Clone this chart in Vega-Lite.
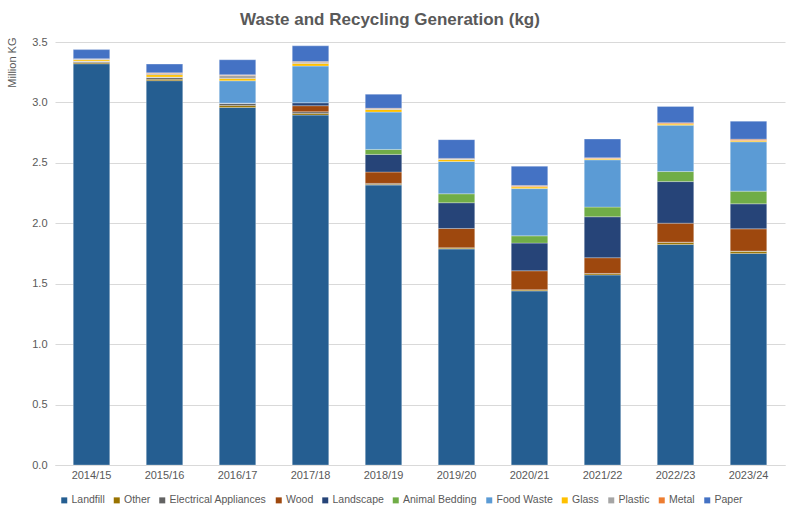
{
  "$schema": "https://vega.github.io/schema/vega-lite/v6.json",
  "autosize": {"type": "none"},
  "width": 730,
  "height": 423,
  "padding": {"left": 55, "top": 42, "right": 15, "bottom": 52},
  "background": "white",
  "title": {
    "text": "Waste and Recycling Generation (kg)",
    "font": "Liberation Sans",
    "fontSize": 17,
    "fontWeight": "bold",
    "color": "#595959",
    "anchor": "middle",
    "frame": "group",
    "dx": -30,
    "offset": 7
  },
  "datasets": {
    "stackorder": [
      {"type": "Landfill", "rank": 1},
      {"type": "Other", "rank": 2},
      {"type": "Electrical Appliances", "rank": 3},
      {"type": "Wood", "rank": 4},
      {"type": "Landscape", "rank": 5},
      {"type": "Animal Bedding", "rank": 6},
      {"type": "Food Waste", "rank": 7},
      {"type": "Glass", "rank": 8},
      {"type": "Plastic", "rank": 9},
      {"type": "Metal", "rank": 10},
      {"type": "Paper", "rank": 11}
    ]
  },
  "data": {
    "values": [
      {"year": "2014/15", "type": "Landfill", "value": 3.32},
      {"year": "2014/15", "type": "Other", "value": 0.01},
      {"year": "2014/15", "type": "Electrical Appliances", "value": 0.012},
      {"year": "2014/15", "type": "Wood", "value": 0},
      {"year": "2014/15", "type": "Landscape", "value": 0},
      {"year": "2014/15", "type": "Animal Bedding", "value": 0},
      {"year": "2014/15", "type": "Food Waste", "value": 0},
      {"year": "2014/15", "type": "Glass", "value": 0.012},
      {"year": "2014/15", "type": "Plastic", "value": 0.005},
      {"year": "2014/15", "type": "Metal", "value": 0.003},
      {"year": "2014/15", "type": "Paper", "value": 0.075},

      {"year": "2015/16", "type": "Landfill", "value": 3.18},
      {"year": "2015/16", "type": "Other", "value": 0.012},
      {"year": "2015/16", "type": "Electrical Appliances", "value": 0.018},
      {"year": "2015/16", "type": "Wood", "value": 0},
      {"year": "2015/16", "type": "Landscape", "value": 0},
      {"year": "2015/16", "type": "Animal Bedding", "value": 0},
      {"year": "2015/16", "type": "Food Waste", "value": 0},
      {"year": "2015/16", "type": "Glass", "value": 0.02},
      {"year": "2015/16", "type": "Plastic", "value": 0.01},
      {"year": "2015/16", "type": "Metal", "value": 0.005},
      {"year": "2015/16", "type": "Paper", "value": 0.072},

      {"year": "2016/17", "type": "Landfill", "value": 2.958},
      {"year": "2016/17", "type": "Other", "value": 0.016},
      {"year": "2016/17", "type": "Electrical Appliances", "value": 0.02},
      {"year": "2016/17", "type": "Wood", "value": 0},
      {"year": "2016/17", "type": "Landscape", "value": 0},
      {"year": "2016/17", "type": "Animal Bedding", "value": 0},
      {"year": "2016/17", "type": "Food Waste", "value": 0.185},
      {"year": "2016/17", "type": "Glass", "value": 0.02},
      {"year": "2016/17", "type": "Plastic", "value": 0.025},
      {"year": "2016/17", "type": "Metal", "value": 0.005},
      {"year": "2016/17", "type": "Paper", "value": 0.124},

      {"year": "2017/18", "type": "Landfill", "value": 2.895},
      {"year": "2017/18", "type": "Other", "value": 0.014},
      {"year": "2017/18", "type": "Electrical Appliances", "value": 0.014},
      {"year": "2017/18", "type": "Wood", "value": 0.05},
      {"year": "2017/18", "type": "Landscape", "value": 0.025},
      {"year": "2017/18", "type": "Animal Bedding", "value": 0},
      {"year": "2017/18", "type": "Food Waste", "value": 0.303},
      {"year": "2017/18", "type": "Glass", "value": 0.022},
      {"year": "2017/18", "type": "Plastic", "value": 0.01},
      {"year": "2017/18", "type": "Metal", "value": 0.005},
      {"year": "2017/18", "type": "Paper", "value": 0.13},

      {"year": "2018/19", "type": "Landfill", "value": 2.316},
      {"year": "2018/19", "type": "Other", "value": 0.007},
      {"year": "2018/19", "type": "Electrical Appliances", "value": 0.007},
      {"year": "2018/19", "type": "Wood", "value": 0.094},
      {"year": "2018/19", "type": "Landscape", "value": 0.146},
      {"year": "2018/19", "type": "Animal Bedding", "value": 0.041},
      {"year": "2018/19", "type": "Food Waste", "value": 0.309},
      {"year": "2018/19", "type": "Glass", "value": 0.022},
      {"year": "2018/19", "type": "Plastic", "value": 0.005},
      {"year": "2018/19", "type": "Metal", "value": 0.005},
      {"year": "2018/19", "type": "Paper", "value": 0.116},

      {"year": "2019/20", "type": "Landfill", "value": 1.787},
      {"year": "2019/20", "type": "Other", "value": 0.008},
      {"year": "2019/20", "type": "Electrical Appliances", "value": 0.002},
      {"year": "2019/20", "type": "Wood", "value": 0.16},
      {"year": "2019/20", "type": "Landscape", "value": 0.213},
      {"year": "2019/20", "type": "Animal Bedding", "value": 0.074},
      {"year": "2019/20", "type": "Food Waste", "value": 0.267},
      {"year": "2019/20", "type": "Glass", "value": 0.017},
      {"year": "2019/20", "type": "Plastic", "value": 0.003},
      {"year": "2019/20", "type": "Metal", "value": 0.006},
      {"year": "2019/20", "type": "Paper", "value": 0.155},

      {"year": "2020/21", "type": "Landfill", "value": 1.44},
      {"year": "2020/21", "type": "Other", "value": 0.008},
      {"year": "2020/21", "type": "Electrical Appliances", "value": 0.002},
      {"year": "2020/21", "type": "Wood", "value": 0.157},
      {"year": "2020/21", "type": "Landscape", "value": 0.229},
      {"year": "2020/21", "type": "Animal Bedding", "value": 0.06},
      {"year": "2020/21", "type": "Food Waste", "value": 0.391},
      {"year": "2020/21", "type": "Glass", "value": 0.014},
      {"year": "2020/21", "type": "Plastic", "value": 0.003},
      {"year": "2020/21", "type": "Metal", "value": 0.008},
      {"year": "2020/21", "type": "Paper", "value": 0.16},

      {"year": "2021/22", "type": "Landfill", "value": 1.572},
      {"year": "2021/22", "type": "Other", "value": 0.011},
      {"year": "2021/22", "type": "Electrical Appliances", "value": 0.002},
      {"year": "2021/22", "type": "Wood", "value": 0.13},
      {"year": "2021/22", "type": "Landscape", "value": 0.339},
      {"year": "2021/22", "type": "Animal Bedding", "value": 0.08},
      {"year": "2021/22", "type": "Food Waste", "value": 0.391},
      {"year": "2021/22", "type": "Glass", "value": 0.008},
      {"year": "2021/22", "type": "Plastic", "value": 0.003},
      {"year": "2021/22", "type": "Metal", "value": 0.006},
      {"year": "2021/22", "type": "Paper", "value": 0.155},

      {"year": "2022/23", "type": "Landfill", "value": 1.825},
      {"year": "2022/23", "type": "Other", "value": 0.017},
      {"year": "2022/23", "type": "Electrical Appliances", "value": 0.002},
      {"year": "2022/23", "type": "Wood", "value": 0.157},
      {"year": "2022/23", "type": "Landscape", "value": 0.344},
      {"year": "2022/23", "type": "Animal Bedding", "value": 0.083},
      {"year": "2022/23", "type": "Food Waste", "value": 0.384},
      {"year": "2022/23", "type": "Glass", "value": 0.01},
      {"year": "2022/23", "type": "Plastic", "value": 0.002},
      {"year": "2022/23", "type": "Metal", "value": 0.008},
      {"year": "2022/23", "type": "Paper", "value": 0.135},

      {"year": "2023/24", "type": "Landfill", "value": 1.751},
      {"year": "2023/24", "type": "Other", "value": 0.017},
      {"year": "2023/24", "type": "Electrical Appliances", "value": 0.002},
      {"year": "2023/24", "type": "Wood", "value": 0.184},
      {"year": "2023/24", "type": "Landscape", "value": 0.207},
      {"year": "2023/24", "type": "Animal Bedding", "value": 0.105},
      {"year": "2023/24", "type": "Food Waste", "value": 0.408},
      {"year": "2023/24", "type": "Glass", "value": 0.01},
      {"year": "2023/24", "type": "Plastic", "value": 0.002},
      {"year": "2023/24", "type": "Metal", "value": 0.01},
      {"year": "2023/24", "type": "Paper", "value": 0.149}
    ]
  },
  "transform": [
    {"lookup": "type", "from": {"data": {"name": "stackorder"}, "key": "type", "fields": ["rank"]}}
  ],
  "mark": {"type": "bar", "stroke": "#ffffff", "strokeWidth": 0.4, "strokeOpacity": 0.7},
  "encoding": {
    "x": {
      "field": "year",
      "type": "nominal",
      "sort": null,
      "scale": {"paddingInner": 0.5, "paddingOuter": 0.25},
      "axis": {
        "title": null,
        "labelAngle": 0,
        "labelFont": "Liberation Sans",
        "labelFontSize": 11,
        "labelColor": "#595959",
        "ticks": false,
        "domainColor": "#d9d9d9",
        "labelPadding": 4
      }
    },
    "y": {
      "field": "value",
      "type": "quantitative",
      "stack": "zero",
      "scale": {"domain": [0, 3.5], "nice": false},
      "axis": {
        "title": "Million KG",
        "titleFont": "Liberation Sans",
        "titleFontSize": 11,
        "titleFontWeight": "normal",
        "titleColor": "#595959",
        "titleAngle": -90,
        "titleAlign": "right",
        "titleBaseline": "middle",
        "titleX": -43,
        "titleY": -5,
        "values": [0, 0.5, 1, 1.5, 2, 2.5, 3, 3.5],
        "format": ".1f",
        "labelFont": "Liberation Sans",
        "labelFontSize": 11,
        "labelColor": "#595959",
        "labelPadding": 8,
        "ticks": false,
        "domain": false,
        "gridColor": "#d9d9d9",
        "gridWidth": 1
      }
    },
    "color": {
      "field": "type",
      "type": "nominal",
      "sort": ["Landfill", "Other", "Electrical Appliances", "Wood", "Landscape", "Animal Bedding", "Food Waste", "Glass", "Plastic", "Metal", "Paper"],
      "scale": {
        "domain": ["Landfill", "Other", "Electrical Appliances", "Wood", "Landscape", "Animal Bedding", "Food Waste", "Glass", "Plastic", "Metal", "Paper"],
        "range": ["#255E91", "#997300", "#636363", "#9E480E", "#264478", "#70AD47", "#5B9BD5", "#FFC000", "#A5A5A5", "#ED7D31", "#4472C4"]
      },
      "legend": {
        "title": null,
        "orient": "none",
        "direction": "horizontal",
        "columns": 11,
        "legendX": 4,
        "legendY": 453,
        "symbolType": "square",
        "symbolSize": 36,
        "symbolStrokeWidth": 0,
        "labelFont": "Liberation Sans",
        "labelFontSize": 10.5,
        "labelColor": "#595959",
        "labelOffset": 2,
        "columnPadding": 6.5
      }
    },
    "order": {"field": "rank", "type": "quantitative", "sort": "ascending"}
  },
  "config": {
    "view": {"stroke": null},
    "font": "Liberation Sans"
  }
}
